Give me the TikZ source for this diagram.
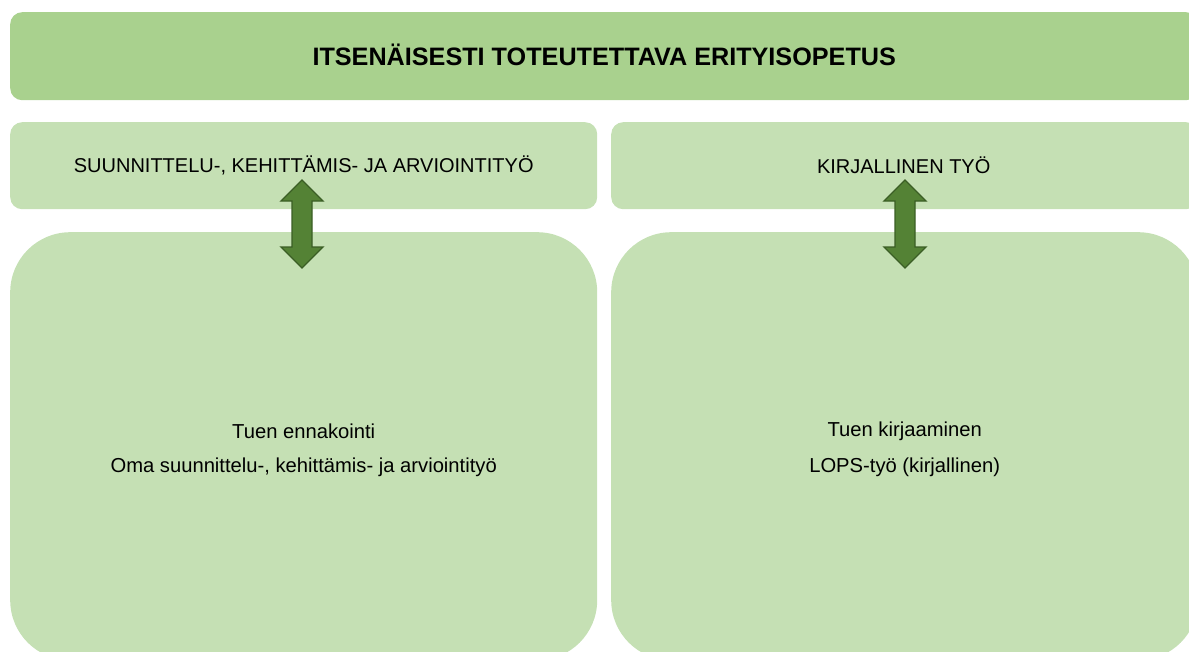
\documentclass[tikz,border=0pt]{standalone}
\usepackage{fontspec}
\setmainfont{Liberation Sans}
\definecolor{bannerg}{HTML}{A9D18E}
\definecolor{boxg}{HTML}{C5E0B4}
\definecolor{arrowg}{HTML}{548235}
\definecolor{arrowd}{HTML}{3B5E25}
\begin{document}
\begin{tikzpicture}[x=1pt,y=-1pt,
  banner/.style={fill=bannerg, rounded corners=12pt, inner sep=0pt, minimum width=1188pt, minimum height=88pt, anchor=north west},
  header/.style={fill=boxg, rounded corners=12pt, inner sep=0pt, minimum width=587pt, minimum height=87pt, anchor=north west},
  bigbox/.style={fill=boxg, rounded corners=60pt, inner sep=0pt, minimum width=587pt, minimum height=428pt, anchor=north west},
  dblarrow/.style={fill=arrowg, draw=arrowd, line width=1.3pt, line join=miter},
  ttl/.style={font=\fontsize{25.2}{30}\selectfont\bfseries},
  htxt/.style={font=\fontsize{20}{24}\selectfont},
  btxt/.style={font=\fontsize{20.2}{24}\selectfont, align=center}]
\useasboundingbox (0,0) rectangle (1189,651);
\clip (0,0) rectangle (1189,651);
\node[banner] (banner) at (10,12) {};
\node[header] (hl) at (10,122) {};
\node[header] (hr) at (611,122) {};
\node[bigbox] (bl) at (10,232) {};
\node[bigbox] (br) at (611,232) {};
\node[ttl] (title) at ([yshift=1pt]banner.center) {ITSENÄISESTI TOTEUTETTAVA ERITYISOPETUS};
\node[htxt] (hlt) at (hl.center) {SUUNNITTELU-, KEHITTÄMIS- JA ARVIOINTITYÖ};
\node[htxt] (hrt) at ([xshift=-1pt]hr.center) {KIRJALLINEN TYÖ};
\node[btxt] (blt1) at ([yshift=15pt]bl.center) {Tuen ennakointi};
\node[btxt] (blt2) at ([yshift=-21pt]bl.center) {Oma suunnittelu-, kehittämis- ja arviointityö};
\node[btxt] (brt1) at ([yshift=15pt]br.center) {Tuen kirjaaminen};
\node[btxt] (brt2) at ([yshift=-21pt]br.center) {LOPS-työ (kirjallinen)};
\foreach \n/\cx in {al/302, ar/905} {
  \draw[dblarrow] (\cx,180) -- (\cx+21,201) -- (\cx+10,201) -- (\cx+10,247) -- (\cx+21,247)
    -- (\cx,268) -- (\cx-21,247) -- (\cx-10,247) -- (\cx-10,201) -- (\cx-21,201) -- cycle;
}
\end{tikzpicture}
\end{document}
